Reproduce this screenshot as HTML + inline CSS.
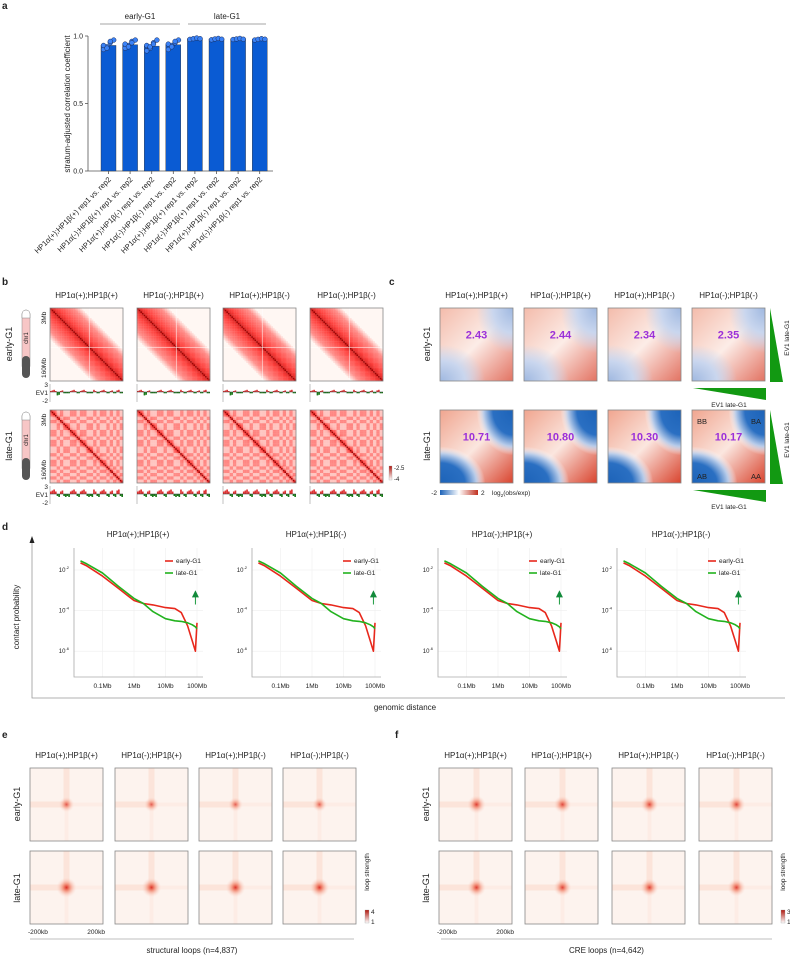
<!DOCTYPE html>
<html><head><meta charset="utf-8">
<style>
html,body{margin:0;padding:0;background:#fff;}
svg{display:block;font-family:"Liberation Sans",sans-serif;}
text{fill:#222;}
</style></head>
<body>
<svg id="fig" width="790" height="959" viewBox="0 0 790 959" xmlns="http://www.w3.org/2000/svg">
<defs>
<linearGradient id="saddleBase" x1="0" y1="0" x2="1" y2="1">
<stop offset="0" stop-color="#f0a58f"/><stop offset="0.5" stop-color="#fbe6df"/><stop offset="1" stop-color="#d9442e"/></linearGradient>
<radialGradient id="blueE" cx="0.5" cy="0.5" r="0.5"><stop offset="0" stop-color="#9fb8e0"/><stop offset="0.55" stop-color="#c9d6ee"/><stop offset="1" stop-color="#c9d6ee" stop-opacity="0"/></radialGradient>
<radialGradient id="blueL" cx="0.5" cy="0.5" r="0.5"><stop offset="0" stop-color="#1d63b8"/><stop offset="0.55" stop-color="#2a6fc2"/><stop offset="0.8" stop-color="#b7cbe9"/><stop offset="1" stop-color="#fff" stop-opacity="0"/></radialGradient>
<linearGradient id="cbarC" x1="0" x2="1"><stop offset="0" stop-color="#1d63b8"/><stop offset="0.5" stop-color="#fff"/><stop offset="1" stop-color="#c0301f"/></linearGradient>
<linearGradient id="cbarB" x1="0" y1="1" x2="0" y2="0"><stop offset="0" stop-color="#fff"/><stop offset="1" stop-color="#b0180f"/></linearGradient>
<radialGradient id="dotE" cx="0.5" cy="0.5" r="0.5"><stop offset="0" stop-color="#d81e12"/><stop offset="0.35" stop-color="#f07a60" stop-opacity="0.8"/><stop offset="1" stop-color="#fbd9cc" stop-opacity="0"/></radialGradient>
</defs>
</svg>
<script>
// ---------- data ----------
var aCategories=["HP1α(+);HP1β(+) rep1 vs. rep2","HP1α(-);HP1β(+) rep1 vs. rep2","HP1α(+);HP1β(-) rep1 vs. rep2","HP1α(-);HP1β(-) rep1 vs. rep2","HP1α(+);HP1β(+) rep1 vs. rep2","HP1α(-);HP1β(+) rep1 vs. rep2","HP1α(+);HP1β(-) rep1 vs. rep2","HP1α(-);HP1β(-) rep1 vs. rep2"];
var aValues=[0.93,0.935,0.925,0.935,0.98,0.978,0.978,0.975];
var aPoints=[[0.90,0.92,0.95,0.97,0.93,0.91,0.96],[0.91,0.93,0.96,0.97,0.94,0.92,0.95],[0.89,0.91,0.95,0.97,0.93,0.92,0.94],[0.90,0.93,0.95,0.97,0.94,0.92,0.96],[0.975,0.98,0.985,0.98],[0.972,0.978,0.982,0.976],[0.974,0.978,0.982,0.976],[0.97,0.975,0.98,0.976]];
var aTicks=[0,0.5,1.0];
var genotypes=["HP1α(+);HP1β(+)","HP1α(-);HP1β(+)","HP1α(+);HP1β(-)","HP1α(-);HP1β(-)"];
var saddleEarly=[2.43,2.44,2.34,2.35];
var saddleLate=[10.71,10.80,10.30,10.17];
var compartment=[1,1,-1,1,-1,-1,1,1,-1,1,1,-1,-1,1,-1,1,1,-1,1,-1,1,-1];
var dGenotypes=["HP1α(+);HP1β(+)","HP1α(+);HP1β(-)","HP1α(-);HP1β(+)","HP1α(-);HP1β(-)"];
var dLogS=[-1.7,-1.5,-1,-0.5,0,0.3,0.6,1,1.3,1.5,1.7,1.85,1.95,2];
var dEarly=[-1.65,-1.8,-2.3,-2.9,-3.5,-3.65,-3.72,-3.85,-3.9,-4.1,-4.75,-5.5,-6,-4.6];
var dLate=[-1.55,-1.7,-2.15,-2.8,-3.4,-3.65,-4.05,-4.4,-4.5,-4.53,-4.6,-4.7,-4.8,-4.9];
var dXTicks=[-1,0,1,2];var dXLabels=["0.1Mb","1Mb","10Mb","100Mb"];
var dYTicks=[-2,-4,-6];
var loopEarlyE=[0.45,0.4,0.38,0.37];var loopLateE=[0.85,0.8,0.8,0.78];
var loopEarlyF=[0.7,0.62,0.62,0.62];var loopLateF=[0.72,0.66,0.68,0.67];

// ---------- helpers ----------
var svg=document.getElementById('fig');var NS="http://www.w3.org/2000/svg";
function mk(tag,at,parent,txt){var e=document.createElementNS(NS,tag);for(var k in at)e.setAttribute(k,at[k]);if(txt!=null)e.textContent=txt;(parent||svg).appendChild(e);return e;}
function T(x,y,s,size,anchor,parent,extra){var at={x:x,y:y,'font-size':size||8,'text-anchor':anchor||'middle'};if(extra)for(var k in extra)at[k]=extra[k];return mk('text',at,parent,s);}
function grp(){return mk('g',{});}

[["a",2,9],["b",2,285],["c",389,285],["d",2,530],["e",2,738],["f",395,738]].forEach(function(p){
 var t=T(p[1],p[2],p[0],10,'start',null,{'font-weight':'bold'});
 
 
});

// ---------- panel a ----------
var ga=grp();
var aY=function(v){return 171-v*135;};
var aX=function(i){return 108.5+i*21.6;};
mk('line',{x1:88,y1:36,x2:88,y2:171,stroke:'#555','stroke-width':0.8},ga);
mk('line',{x1:88,y1:171,x2:273,y2:171,stroke:'#555','stroke-width':0.8},ga);
aTicks.forEach(function(v){mk('line',{x1:85,y1:aY(v),x2:88,y2:aY(v),stroke:'#555','stroke-width':0.8},ga);T(83,aY(v)+2.5,v.toFixed(1),7,'end',ga);});
var yt=T(0,0,"stratum-adjusted correlation coefficient",8,'middle',ga,{transform:'translate(70,104) rotate(-90)'});

aValues.forEach(function(v,i){
 var b=mk('rect',{x:aX(i)-7.5,y:aY(v),width:15,height:171-aY(v),fill:'#0a5bd3',stroke:'#333','stroke-width':0.4},ga);
 
 aPoints[i].forEach(function(p,j){mk('circle',{cx:aX(i)-5+(j%4)*3.4,cy:aY(p),r:2.4,fill:'#3b82f6',stroke:'#1a2b55','stroke-width':0.5},ga);});
 var lt=T(0,0,aCategories[i],7.5,'end',ga,{transform:'translate('+(aX(i)+3)+',180) rotate(-45)'});
 
 mk('line',{x1:aX(i),y1:171,x2:aX(i),y2:174,stroke:'#555','stroke-width':0.8},ga);
});
mk('line',{x1:100,y1:24,x2:180,y2:24,stroke:'#888','stroke-width':0.8},ga);
mk('line',{x1:188,y1:24,x2:266,y2:24,stroke:'#888','stroke-width':0.8},ga);
T(140,19,"early-G1",8,'middle',ga);T(227,19,"late-G1",8,'middle',ga);

// ---------- panel b ----------
var gb=grp();
var bX=[50,137,223,310];var bW=73;
genotypes.forEach(function(g,i){T(bX[i]+bW/2,298,g,8,'middle',gb);});
function col(v){var R=Math.round(255-Math.max(0,v-0.8)*250),G=Math.round(245-v*220),B=Math.round(240-v*218);return 'rgb('+R+','+Math.max(G,5)+','+Math.max(B,5)+')';}
function hicMap(x,y,late){
 var n=44;var c=bW/n;
 var gg=mk('g',{},gb);
 mk('rect',{x:x,y:y,width:bW,height:bW,fill:'#fff7f3'},gg);
 for(var r=0;r<n;r++)for(var q=0;q<n;q++){
  var d=Math.abs(r-q);var v;
  if(!late){v=d<14?0.95-d*0.035:Math.max(0,0.46-(d-14)*0.09);}
  else{var cr=compartment[Math.floor(r/2)],cq=compartment[Math.floor(q/2)];v=0.36+0.14*cr*cq+Math.exp(-d/1.5)*0.6;}
  if(d==0)v=1.2;
  if(v<0.04)continue;
  mk('rect',{x:x+q*c,y:y+r*c,width:c+0.15,height:c+0.15,fill:col(Math.min(v,1.2))},gg);
 }
 if(!late){mk('line',{x1:x+bW*0.54,y1:y,x2:x+bW*0.54,y2:y+bW,stroke:'#fff','stroke-width':0.6,opacity:0.8},gg);
  mk('line',{x1:x,y1:y+bW*0.54,x2:x+bW,y2:y+bW*0.54,stroke:'#fff','stroke-width':0.6,opacity:0.8},gg);}
 mk('rect',{x:x,y:y,width:bW,height:bW,fill:'none',stroke:'#888','stroke-width':0.8},gg);
 return gg;
}
function ev1(x,y,late){
 var gg=mk('g',{},gb);
 mk('line',{x1:x,y1:y,x2:x,y2:y+18,stroke:'#999','stroke-width':0.6},gg);
 var base=y+8;var n=44;var w=bW/n;
 for(var k=0;k<n;k++){var v=compartment[Math.floor(k/2)];
  var h=late?(v>0?2.5+(k%3):2+(k%2)):(v>0?1+(k%3)*0.6:1+(k<8?(8-k)*0.6:0.3));
  mk('rect',{x:x+k*w,y:v>0?base-h:base,width:w,height:h,fill:v>0?'#d33':'#1a7a1a'},gg);}
 mk('line',{x1:x,y1:base,x2:x+bW,y2:base,stroke:'#333','stroke-width':0.5},gg);
}
[[308,false,384],[410,true,486]].forEach(function(row){
 bX.forEach(function(x,i){var m=hicMap(x,row[0],row[1]);
  
  ev1(x,row[2],row[1]);});
 var lab=row[1]?"late-G1":"early-G1";
 T(0,0,lab,9,'middle',gb,{transform:'translate(12,'+(row[0]+36)+') rotate(-90)'});
 mk('rect',{x:22,y:row[0]+2,width:8,height:60,rx:4,fill:'#f7c6c6',stroke:'#888','stroke-width':0.5},gb);
 mk('rect',{x:22,y:row[0]+48,width:8,height:22,rx:4,fill:'#555'},gb);
 mk('path',{d:'M22,'+(row[0]+6)+' a4,4 0 0 1 8,0 v4 h-8z',fill:'#fff',stroke:'#888','stroke-width':0.5},gb);
 T(0,0,"chr1",6,'middle',gb,{transform:'translate(28,'+(row[0]+30)+') rotate(-90)'});
 T(0,0,"3Mb",6.5,'middle',gb,{transform:'translate(46,'+(row[0]+10)+') rotate(-90)'});
 T(0,0,"160Mb",6.5,'middle',gb,{transform:'translate(46,'+(row[0]+60)+') rotate(-90)'});
 T(48,row[2]+3,"3",6.5,'end',gb);T(48,row[2]+11,"EV1",6.5,'end',gb);T(48,row[2]+19,"-2",6.5,'end',gb);
});
mk('rect',{x:389,y:466,width:3,height:14,fill:'url(#cbarB)',stroke:'#999','stroke-width':0.3},gb);
T(394,470,"-2.5",6,'start',gb);T(394,481,"-4",6,'start',gb);

// ---------- panel c ----------
var gc=grp();
var cX=[440,524,608,692];var cW=73;
genotypes.forEach(function(g,i){T(cX[i]+cW/2,298,g,8,'middle',gc);});
function saddle(x,y,val,late){
 var gg=mk('g',{},gc);
 var cp=mk('clipPath',{id:'cl'+x+'_'+y},gg);mk('rect',{x:x,y:y,width:cW,height:cW},cp);
 var inner=mk('g',{'clip-path':'url(#cl'+x+'_'+y+')'},gg);
 mk('rect',{x:x,y:y,width:cW,height:cW,fill:'url(#saddleBase)','opacity':late?1:0.75},inner);
 var bl=late?'url(#blueL)':'url(#blueE)';
 mk('ellipse',{cx:x+cW,cy:y,rx:cW*0.5,ry:cW*0.62,fill:bl},inner);
 mk('ellipse',{cx:x,cy:y+cW,rx:cW*0.62,ry:cW*0.5,fill:bl},inner);
 mk('rect',{x:x,y:y,width:cW,height:cW,fill:'none',stroke:'#888','stroke-width':0.8},gg);
 var t=T(x+cW/2,y+cW/2-6,val.toFixed(2),11,'middle',gg,{'font-weight':'bold',style:'fill:#9b30d9'});
 
}
cX.forEach(function(x,i){saddle(x,308,saddleEarly[i],false);saddle(x,410,saddleLate[i],true);});
T(0,0,"early-G1",9,'middle',gc,{transform:'translate(430,344) rotate(-90)'});
T(0,0,"late-G1",9,'middle',gc,{transform:'translate(430,446) rotate(-90)'});
[308,410].forEach(function(y){
 mk('polygon',{points:'770,'+y+' 770,'+(y+74)+' 783,'+(y+74),fill:'#129912'},gc);
 T(0,0,"EV1 late-G1",6.5,'middle',gc,{transform:'translate(789,'+(y+30)+') rotate(-90)'});
 mk('polygon',{points:'693,'+(y+80)+' 766,'+(y+80)+' 766,'+(y+92),fill:'#129912'},gc);
 T(729,y+99,"EV1 late-G1",6.5,'middle',gc);
});
T(697,424,"BB",7.5,'start',gc);T(761,424,"BA",7.5,'end',gc);T(697,479,"AB",7.5,'start',gc);T(761,479,"AA",7.5,'end',gc);
mk('rect',{x:440,y:490,width:38,height:5,fill:'url(#cbarC)'},gc);
T(437,495,"-2",6.5,'end',gc);T(481,495,"2",6.5,'start',gc);
var lg=T(492,495,"log",6.5,'start',gc);mk('tspan',{'font-size':4.5,dy:2},lg,"2");mk('tspan',{dy:-2},lg,"(obs/exp)");

// ---------- panel d ----------
var gd=grp();
mk('polyline',{points:'32,540 32,698 785,698',fill:'none',stroke:'#999','stroke-width':0.8},gd);
mk('polygon',{points:'29.5,543 34.5,543 32,536',fill:'#222'},gd);
T(0,0,"contact probability",8,'middle',gd,{transform:'translate(19,617) rotate(-90)'});
T(405,710,"genomic distance",8,'middle',gd);
var dX0=[74,252,438,617];
dX0.forEach(function(x0,p){
 var gp=mk('g',{},gd);
 var sx=function(v){return x0+60+v*31.5;};var sy=function(v){return 570-(v+2)*20.3;};
 T(x0+64,537,dGenotypes[p],8,'middle',gp);
 dXTicks.forEach(function(v,k){mk('line',{x1:sx(v),y1:548,x2:sx(v),y2:677,stroke:'#eee','stroke-width':0.6},gp);T(sx(v),688,dXLabels[k],6.5,'middle',gp);});
 dYTicks.forEach(function(v){mk('line',{x1:x0,y1:sy(v),x2:x0+129,y2:sy(v),stroke:'#eee','stroke-width':0.6},gp);
  var t=T(x0-5,sy(v)+2,"10",6,'end',gp);mk('tspan',{'font-size':4,dy:-3},t,String(v));});
 mk('polyline',{points:x0+','+548+' '+x0+',677 '+(x0+129)+',677',fill:'none',stroke:'#aaa','stroke-width':0.8},gp);
 function line(arr,c){var pts=dLogS.map(function(s,k){return sx(s).toFixed(1)+','+sy(arr[k]).toFixed(1);}).join(' ');
  return mk('polyline',{points:pts,fill:'none',stroke:c,'stroke-width':1.6,'stroke-linejoin':'round'},gp);}
 var le=line(dEarly,'#e8281c');
 var ll=line(dLate,'#22b21e');
 mk('line',{x1:sx(1.95),y1:sy(-3.7),x2:sx(1.95),y2:sy(-3.15),stroke:'#1a9a40','stroke-width':1},gp);
 mk('polygon',{points:(sx(1.95)-3.5)+','+sy(-3.35)+' '+(sx(1.95)+3.5)+','+sy(-3.35)+' '+sx(1.95)+','+sy(-3.0),fill:'#128a3a'},gp);
 mk('line',{x1:x0+91,y1:561,x2:x0+99,y2:561,stroke:'#e8281c','stroke-width':1.6},gp);T(x0+102,563,"early-G1",6.5,'start',gp);
 mk('line',{x1:x0+91,y1:573,x2:x0+99,y2:573,stroke:'#22b21e','stroke-width':1.6},gp);T(x0+102,575,"late-G1",6.5,'start',gp);
});

// ---------- panels e,f ----------
function apa(gp,x,y,w,strength,offset){
 var gg=mk('g',{},gp);
 mk('rect',{x:x,y:y,width:w,height:w,fill:'#fdf3ee'},gg);
 mk('rect',{x:x,y:y+w/2-3,width:w/2,height:6,fill:'#fbe0d5',opacity:0.8},gg);
 mk('rect',{x:x+w/2+offset-3,y:y,width:6,height:w/2,fill:'#fbe0d5',opacity:0.8},gg);
 mk('rect',{x:x+w/2+offset-2,y:y+w/2,width:4,height:w/2,fill:'#fceae2',opacity:0.8},gg);
 mk('rect',{x:x+w/2,y:y+w/2-2,width:w/2,height:4,fill:'#fceae2',opacity:0.8},gg);
 var r=5+strength*6;
 mk('circle',{cx:x+w/2+offset,cy:y+w/2,r:r,fill:'url(#dotE)',opacity:0.5+strength*0.5},gg);
 mk('rect',{x:x,y:y,width:w,height:w,fill:'none',stroke:'#888','stroke-width':0.8},gg);
 return gg;
}
function loopPanel(name,xs,early,late,x0,caption,cmax,lineX1,lineX2,offset){
 var gp=grp();
 genotypes.forEach(function(g,i){T(xs[i]+36.5,758,g,8,'middle',gp);});
 xs.forEach(function(x,i){
  var a=apa(gp,x,768,73,early[i],offset);
  var b=apa(gp,x,851,73,late[i],offset);
 });
 T(0,0,"early-G1",9,'middle',gp,{transform:'translate('+(x0-10)+',804) rotate(-90)'});
 T(0,0,"late-G1",9,'middle',gp,{transform:'translate('+(x0-10)+',888) rotate(-90)'});
 T(xs[0]-2,934,"-200kb",6.5,'start',gp);T(xs[0]+75,934,"200kb",6.5,'end',gp);
 mk('line',{x1:lineX1,y1:939,x2:lineX2,y2:939,stroke:'#aaa','stroke-width':0.8},gp);
 T((lineX1+lineX2)/2,953,caption,8,'middle',gp);
 var cx=xs[3]+82;
 mk('rect',{x:cx,y:910,width:4,height:13,fill:'url(#cbarB)',stroke:'#999','stroke-width':0.3},gp);
 T(cx+6,914,String(cmax),6.5,'start',gp);T(cx+6,924,"1",6.5,'start',gp);
 T(0,0,"loop strength",6.5,'middle',gp,{transform:'translate('+(cx+4)+',872) rotate(-90)'});
}
loopPanel('panel-e-structural-loops',[30,115,199,283],loopEarlyE,loopLateE,30,"structural loops (n=4,837)",4,30,354,0);
loopPanel('panel-f-cre-loops',[439,525,612,699],loopEarlyF,loopLateF,439,"CRE loops (n=4,642)",3,441,772,1);
</script>
</body></html>
